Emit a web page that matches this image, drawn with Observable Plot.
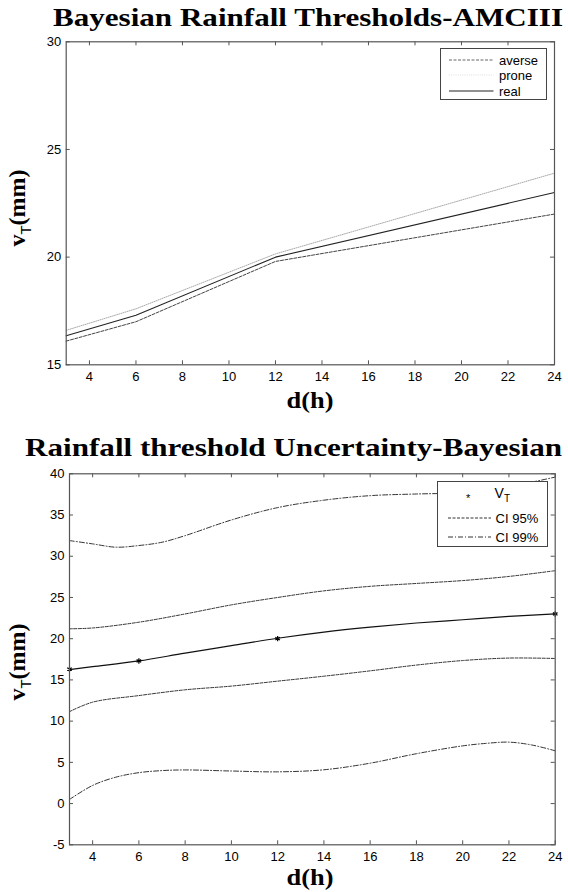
<!DOCTYPE html>
<html><head><meta charset="utf-8">
<script src="https://cdn.jsdelivr.net/npm/d3@7"></script>
<script src="https://cdn.jsdelivr.net/npm/@observablehq/plot@0.6"></script>
<style>
html,body{margin:0;padding:0;background:#fff;}
#wrap{position:relative;width:568px;height:892px;overflow:hidden;background:#fff;}
.abs{position:absolute;white-space:nowrap;}
.title{font-family:'Liberation Serif',serif;font-weight:bold;font-size:26px;line-height:26px;transform-origin:0 0;color:#000;}
.axl{font-family:'Liberation Serif',serif;font-weight:bold;font-size:24px;line-height:24px;color:#000;}
.axl sub{font-family:'Liberation Sans',Arial,sans-serif;font-weight:normal;font-size:15px;vertical-align:-6px;}
.leg{position:absolute;background:#fff;border:1px solid #444;box-sizing:border-box;}
.lt{position:absolute;font-family:'Liberation Sans',Arial,sans-serif;font-size:13px;line-height:1;color:#000;transform:translateY(-50%);white-space:nowrap;}
.lt sub{font-size:10px;vertical-align:-4px;}
</style></head><body><div id="wrap"></div>
<script>
// ---------- data: top chart ----------
const hours = [3, 6, 12, 24];
const realT = [16.35, 17.3, 20.0, 23.0];
const proneT = [16.6, 17.6, 20.15, 23.9];
const averseT = [16.1, 17.0, 19.8, 22.0];
const xTicks = [4, 6, 8, 10, 12, 14, 16, 18, 20, 22, 24];
const yTicksTop = [15, 20, 25, 30];

// ---------- data: bottom chart ----------
const vtHours = [3, 6, 12, 24];
const vtValues = [16.3, 17.3, 20.0, 23.0];
const fitHours = [3, 4, 6, 8, 10, 12, 14, 16, 18, 20, 22, 24];
const fitValues = [16.25, 16.6, 17.3, 18.25, 19.15, 20.05, 20.8, 21.4, 21.9, 22.3, 22.7, 23.0];
const ci95Upper = [21.2, 21.3, 22.0, 23.0, 24.1, 25.0, 25.8, 26.35, 26.7, 27.05, 27.55, 28.25];
const ci95Lower = [11.15, 12.3, 13.1, 13.8, 14.25, 14.85, 15.45, 16.1, 16.8, 17.35, 17.65, 17.6];
const ci99Hours = [3, 4, 5, 6, 7, 8, 10, 12, 14, 16, 18, 20, 21, 22, 23, 24];
const ci99Upper = [31.9, 31.5, 31.1, 31.3, 31.7, 32.5, 34.4, 35.9, 36.8, 37.35, 37.55, 37.7, 38.0, 38.5, 39.0, 39.6];
const ci99Lower = [0.5, 2.2, 3.2, 3.75, 4.0, 4.08, 3.95, 3.85, 4.1, 4.9, 6.05, 7.0, 7.3, 7.45, 7.1, 6.4];
const yTicksBottom = [-5, 0, 5, 10, 15, 20, 25, 30, 35, 40];

const W = 568;
const wrap = document.getElementById("wrap");

function el(tag, cls, html, css) {
  const e = document.createElement(tag);
  if (cls) e.className = cls;
  if (html != null) e.innerHTML = html;
  Object.assign(e.style, css || {});
  wrap.appendChild(e);
  return e;
}

function framed(cfg) {
  const innerW = W - cfg.ml - cfg.mr;
  const innerH = cfg.height - cfg.mt - cfg.mb;
  const tk = 4;
  const svg = Plot.plot({
    width: W, height: cfg.height,
    marginLeft: cfg.ml, marginRight: cfg.mr, marginTop: cfg.mt, marginBottom: cfg.mb,
    x: {domain: [3, 24]},
    y: {domain: cfg.yDomain},
    style: {fontFamily: "'Liberation Sans', Arial, sans-serif", fontSize: "13px", color: "#000", background: "transparent", overflow: "visible"},
    marks: [
      ...cfg.marks,
      Plot.ruleX(xTicks, {x: d => d, insetTop: innerH - tk, stroke: "#555"}),
      Plot.ruleX(xTicks, {x: d => d, insetBottom: innerH - tk, stroke: "#555"}),
      Plot.ruleY(cfg.yTicks, {y: d => d, insetRight: innerW - tk, stroke: "#555"}),
      Plot.ruleY(cfg.yTicks, {y: d => d, insetLeft: innerW - tk, stroke: "#555"}),
      Plot.frame({stroke: "#555", strokeWidth: 1.2}),
      Plot.axisX(xTicks, {anchor: "bottom", tickSize: 0, tickPadding: 6.5, tickFormat: d => String(d), label: null}),
      Plot.axisY(cfg.yTicks, {anchor: "left", tickSize: 0, tickPadding: 5, tickFormat: d => String(d), label: null})
    ]
  });
  svg.style.position = "absolute";
  svg.style.left = "0px";
  svg.style.top = cfg.top + "px";
  wrap.appendChild(svg);
}

// ---------- top chart ----------
const topRows = hours.map((h, i) => ({h, real: realT[i], prone: proneT[i], averse: averseT[i]}));
framed({
  top: 35, height: 395, ml: 65.7, mr: 14, mt: 6.3, mb: 65.7,
  yDomain: [15, 30], yTicks: yTicksTop,
  marks: [
    Plot.line(topRows, {x: "h", y: "prone", stroke: "#aaa", strokeWidth: 1, strokeDasharray: "1,1.2"}),
    Plot.line(topRows, {x: "h", y: "averse", stroke: "#444", strokeWidth: 1, strokeDasharray: "3,1.5"}),
    Plot.line(topRows, {x: "h", y: "real", stroke: "#222", strokeWidth: 1.1})
  ]
});

// ---------- bottom chart ----------
const fitRows = fitHours.map((h, i) => ({h, fit: fitValues[i], up95: ci95Upper[i], lo95: ci95Lower[i]}));
const ci99Rows = ci99Hours.map((h, i) => ({h, up99: ci99Upper[i], lo99: ci99Lower[i]}));
const vtRows = vtHours.map((h, i) => ({h, v: vtValues[i]}));
framed({
  top: 462, height: 430, ml: 69, mr: 13.3, mt: 11.3, mb: 47.7,
  yDomain: [-5, 40], yTicks: yTicksBottom,
  marks: [
    Plot.line(ci99Rows, {x: "h", y: "up99", stroke: "#333", strokeWidth: 1, strokeDasharray: "5,2,1,2", curve: "catmull-rom"}),
    Plot.line(ci99Rows, {x: "h", y: "lo99", stroke: "#333", strokeWidth: 1, strokeDasharray: "5,2,1,2", curve: "catmull-rom"}),
    Plot.line(fitRows, {x: "h", y: "up95", stroke: "#333", strokeWidth: 1, strokeDasharray: "3,1.5", curve: "catmull-rom"}),
    Plot.line(fitRows, {x: "h", y: "lo95", stroke: "#333", strokeWidth: 1, strokeDasharray: "3,1.5", curve: "catmull-rom"}),
    Plot.line(fitRows, {x: "h", y: "fit", stroke: "#111", strokeWidth: 1.2, curve: "catmull-rom"}),
    Plot.dot(vtRows, {x: "h", y: "v", symbol: "asterisk", r: 2.5, stroke: "#000", strokeWidth: 1.2})
  ]
});

// ---------- titles ----------
function fitTitle(text, left, top, target) {
  const t = el("div", "abs title", text, {left: left + "px", top: top + "px"});
  const w = t.getBoundingClientRect().width;
  t.style.transform = `scaleX(${target / w})`;
}
fitTitle("Bayesian Rainfall Thresholds-AMCIII", 53, 5, 510);
fitTitle("Rainfall threshold Uncertainty-Bayesian", 25, 434.5, 537);

// ---------- axis labels ----------
function xLabel(cx, cy) {
  el("div", "abs axl", "d(h)", {left: cx + "px", top: cy + "px", transform: "translate(-50%,-50%) scaleX(1.1)"});
}
function yLabel(cx, cy) {
  el("div", "abs axl", "v<sub>T</sub>(mm)", {left: cx + "px", top: cy + "px", transform: "translate(-50%,-50%) rotate(-90deg)"});
}
xLabel(310, 400);
xLabel(310, 877);
yLabel(21, 208);
yLabel(21, 662);

// ---------- legends ----------
function lineSample(x1, x2, y, dash, color, width) {
  const s = document.createElementNS("http://www.w3.org/2000/svg", "svg");
  s.setAttribute("width", x2 - x1);
  s.setAttribute("height", 4);
  s.style.position = "absolute";
  s.style.left = x1 + "px";
  s.style.top = (y - 2) + "px";
  const l = document.createElementNS("http://www.w3.org/2000/svg", "line");
  l.setAttribute("x1", 0); l.setAttribute("x2", x2 - x1);
  l.setAttribute("y1", 2); l.setAttribute("y2", 2);
  l.setAttribute("stroke", color);
  l.setAttribute("stroke-width", width);
  if (dash) l.setAttribute("stroke-dasharray", dash);
  s.appendChild(l);
  wrap.appendChild(s);
}
// top legend
el("div", "leg", null, {left: "439.5px", top: "47.7px", width: "107.5px", height: "52.5px"});
lineSample(449, 493.5, 59.5, "3,1.5", "#666", 1);
lineSample(449, 493.5, 75, "1,1.2", "#ddd", 1);
lineSample(449, 493.5, 91, null, "#222", 1.1);
el("div", "lt", "averse", {left: "499px", top: "59.5px"});
el("div", "lt", "prone", {left: "499px", top: "75px"});
el("div", "lt", "real", {left: "499px", top: "91px"});

// bottom legend
el("div", "leg", null, {left: "436.7px", top: "481px", width: "111.3px", height: "65.7px"});
el("div", "lt", "*", {left: "466px", top: "498px", fontSize: "11px"});
el("div", "lt", "V<sub>T</sub>", {left: "494.6px", top: "495px", fontSize: "14px"});
lineSample(447.5, 491, 518.3, "3,1.5", "#333", 1);
lineSample(447.5, 491, 536.7, "5,2,1,2", "#333", 1);
el("div", "lt", "CI 95%", {left: "495.6px", top: "518.3px"});
el("div", "lt", "CI 99%", {left: "495.6px", top: "536.7px"});
</script></body></html>
